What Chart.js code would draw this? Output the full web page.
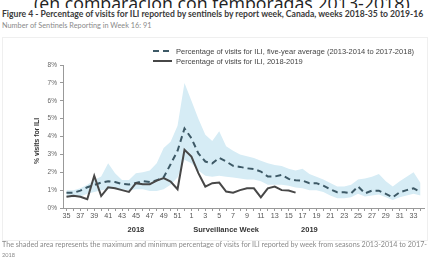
<!DOCTYPE html>
<html>
<head>
<meta charset="utf-8">
<script src="https://cdn.jsdelivr.net/npm/chart.js@4.4.1/dist/chart.umd.min.js"></script>
<style>
html, body { margin: 0; padding: 0; background: #fff; overflow: hidden; width: 429px; height: 258px; }
#wrap { position: relative; width: 429px; height: 258px; overflow: hidden; }
.t { position: absolute; white-space: nowrap; line-height: 1; }
#cut { position: absolute; left: 0; top: 0; width: 429px; height: 8px; overflow: hidden; }
#box { position: absolute; left: 2px; top: 37px; width: 424px; height: 202px; border: 1px solid #efefef; }
#c { position: absolute; left: 0; top: 0; }
</style>
</head>
<body>
<div id="wrap">
  <div id="cut"><div class="t" id="big" style="color:#222">(en comparación con temporadas 2013-2018)</div></div>
  <div class="t" id="title" style="color:#3a3a3a">Figure 4 - Percentage of visits for ILI reported by sentinels by report week, Canada, weeks 2018-35 to 2019-16</div>
  <div class="t" id="sub" style="color:#8a8a8a">Number of Sentinels Reporting in Week 16: 91</div>
  <div id="box"></div>
  <canvas id="c" width="429" height="258"></canvas>
  <div class="t" id="foot1" style="color:#8a8a8a">The shaded area represents the maximum and minimum percentage of visits for ILI reported by week from seasons 2013-2014 to 2017-</div>
  <div class="t" id="foot2" style="color:#8a8a8a">2018</div>
</div>
<script>
// surveillance weeks 2018-35 .. 2019-34
const weeks = [35, 36, 37, 38, 39, 40, 41, 42, 43, 44, 45, 46, 47, 48, 49, 50, 51, 52,
  1, 2, 3, 4, 5, 6, 7, 8, 9, 10, 11, 12, 13, 14, 15, 16, 17, 18, 19, 20, 21, 22, 23, 24, 25,
  26, 27, 28, 29, 30, 31, 32, 33, 34];

// 2018-2019 season, weeks 35 .. 16
const ili2018 = [0.63, 0.69, 0.63, 0.49, 1.8, 0.67, 1.16, 1.1, 1.0, 0.9, 1.39, 1.33, 1.33, 1.53, 1.67, 1.48, 1.05, 3.26,
  2.88, 1.95, 1.2, 1.39, 1.42, 0.92, 0.86, 1.0, 1.1, 1.1, 0.6, 1.1, 1.2, 1.0, 0.98, 0.86];

// five-year average 2013-2014 to 2017-2018
const avg5yr = [0.85, 0.85, 0.97, 1.16, 1.29, 1.42, 1.5, 1.45, 1.35, 1.32, 1.4, 1.5, 1.45, 1.55, 1.72, 2.45, 3.2, 4.45,
  3.9, 3.05, 2.6, 2.5, 2.8, 2.6, 2.36, 2.3, 2.22, 2.18, 2.04, 1.76, 1.76, 1.85, 1.63, 1.55, 1.53, 1.39, 1.39, 1.25,
  1.05, 0.88, 0.88, 0.82, 1.2, 0.82, 0.97, 0.97, 0.79, 0.6, 0.88, 1.0, 1.1, 0.9];

// shaded range (max / min of the five seasons)
const maxPct = [1.0, 1.0, 1.1, 1.3, 1.57, 1.76, 2.5, 1.95, 1.57, 1.57, 1.95, 2.0, 2.1, 2.5, 3.35, 3.7, 4.6, 7.0,
  6.0, 5.0, 4.1, 3.75, 4.3, 3.45, 3.2, 3.0, 2.9, 2.8, 2.65, 2.5, 2.4, 2.35, 2.2, 2.1, 2.2, 1.9, 1.75, 1.6,
  1.4, 1.2, 1.2, 1.3, 1.6, 1.65, 1.75, 1.9, 1.5, 1.2, 1.5, 1.75, 2.0, 1.4];
const minPct = [0.6, 0.6, 0.65, 0.8, 0.9, 1.0, 1.05, 1.1, 1.05, 1.0, 1.05, 1.05, 0.95, 0.95, 1.05, 1.3, 1.7, 2.7,
  2.5, 2.1, 1.8, 1.75, 1.8, 1.75, 1.7, 1.65, 1.6, 1.6, 1.5, 1.3, 1.3, 1.3, 1.25, 1.15, 1.1, 1.0, 1.0, 0.9,
  0.7, 0.55, 0.55, 0.6, 0.8, 0.65, 0.7, 0.75, 0.6, 0.45, 0.6, 0.7, 0.8, 0.7];

const yearLabels = ['2018', '2019'];
const xTitle = 'Surveillance Week';
const yTitle = '% visits for ILI';

// fit html text to the measured width in the picture
const mctx = document.createElement('canvas').getContext('2d');
function fit(id, family, weight, width, x, top, sample) {
  const el = document.getElementById(id);
  mctx.font = weight + ' 100px ' + family;
  const w = mctx.measureText(sample || el.textContent).width;
  const fs = 100 * width / w;
  el.style.font = weight + ' ' + fs.toFixed(2) + 'px ' + family;
  el.style.left = x + 'px';
  el.style.top = (typeof top === 'function' ? top(fs) : top - fs * 0.62) + 'px';
}
fit('big', '"Open Sans"', '400', 376, 34, fs => 6.5 - fs * 0.888);
fit('title', 'Lato', '700', 423, 2, 14);
fit('sub', 'Lato', '400', 150, 2, 26);
fit('foot1', 'Lato', '400', 420, 2, 244.5, 'The shaded area represents the maximum and minimum percentage of visits for ILI reported by week from seasons 2013-2014 to 201');
fit('foot2', 'Lato', '400', 13, 2, 254);

const legendAndTitles = {
  id: 'legendAndTitles',
  afterDraw(chart) {
    const ctx = chart.ctx;
    const x = chart.scales.x;
    ctx.save();
    // legend
    const items = [chart.data.datasets[1], chart.data.datasets[0]];
    items.forEach((ds, i) => {
      const y = 51 + i * 10;
      ctx.strokeStyle = ds.borderColor;
      ctx.lineWidth = ds.borderWidth;
      ctx.setLineDash(ds.borderDash || []);
      ctx.beginPath();
      ctx.moveTo(153, y);
      ctx.lineTo(172, y);
      ctx.stroke();
      ctx.setLineDash([]);
      ctx.fillStyle = '#444';
      ctx.font = '7.5px "Liberation Sans", Arial, sans-serif';
      ctx.textBaseline = 'middle';
      ctx.textAlign = 'left';
      ctx.fillText(ds.label, 176, y + 0.5);
    });
    // x titles
    ctx.fillStyle = '#333';
    ctx.font = 'bold 7.5px "Liberation Sans", Arial, sans-serif';
    ctx.textAlign = 'center';
    ctx.textBaseline = 'middle';
    ctx.fillText(yearLabels[0], x.getPixelForValue(10), 230);
    ctx.fillText(xTitle, x.getPixelForValue(23), 230);
    ctx.fillText(yearLabels[1], x.getPixelForValue(35), 230);
    // y title
    ctx.translate(37, 141);
    ctx.rotate(-Math.PI / 2);
    ctx.font = 'bold 6.8px "Liberation Sans", Arial, sans-serif';
    ctx.fillText(yTitle, 0, 0);
    ctx.restore();
  }
};

new Chart(document.getElementById('c'), {
  type: 'line',
  data: {
    labels: weeks,
    datasets: [
      {
        label: 'Percentage of visits for ILI, 2018-2019',
        data: ili2018,
        borderColor: '#474747',
        borderWidth: 2,
        pointRadius: 0,
        fill: false,
        tension: 0
      },
      {
        label: 'Percentage of visits for ILI, five-year average (2013-2014 to 2017-2018)',
        data: avg5yr,
        borderColor: '#3d5966',
        borderWidth: 2,
        borderDash: [6, 4],
        pointRadius: 0,
        fill: false,
        tension: 0
      },
      {
        label: 'max',
        data: maxPct,
        borderWidth: 0,
        borderColor: 'rgba(0,0,0,0)',
        backgroundColor: '#d6ecf5',
        pointRadius: 0,
        fill: '+1',
        tension: 0
      },
      {
        label: 'min',
        data: minPct,
        borderWidth: 0,
        borderColor: 'rgba(0,0,0,0)',
        pointRadius: 0,
        fill: false,
        tension: 0
      }
    ]
  },
  options: {
    responsive: false,
    animation: false,
    layout: { padding: { top: 65, right: 5, left: 0, bottom: 0 } },
    plugins: { legend: { display: false }, tooltip: { enabled: false } },
    scales: {
      x: {
        type: 'category',
        offset: true,
        grid: { display: true, drawOnChartArea: false, tickLength: 3, color: '#999', offset: false },
        border: { display: true, color: '#999' },
        ticks: {
          autoSkip: false,
          maxRotation: 0,
          padding: 1,
          color: '#555',
          font: { family: '"Liberation Sans", Arial, sans-serif', size: 7.2 },
          callback: (v, i) => (i % 2 === 0 ? weeks[i] : '')
        },
        afterFit: s => { s.height = 50; }
      },
      y: {
        min: 0,
        max: 8,
        grid: { display: true, drawOnChartArea: false, tickLength: 3, color: '#999' },
        border: { display: true, color: '#999' },
        ticks: {
          stepSize: 1,
          padding: 3,
          color: '#666',
          font: { family: '"Liberation Sans", Arial, sans-serif', size: 6.5 },
          callback: v => v + '%'
        },
        afterFit: s => { s.width = 63; }
      }
    }
  },
  plugins: [legendAndTitles]
});
</script>
</body>
</html>
